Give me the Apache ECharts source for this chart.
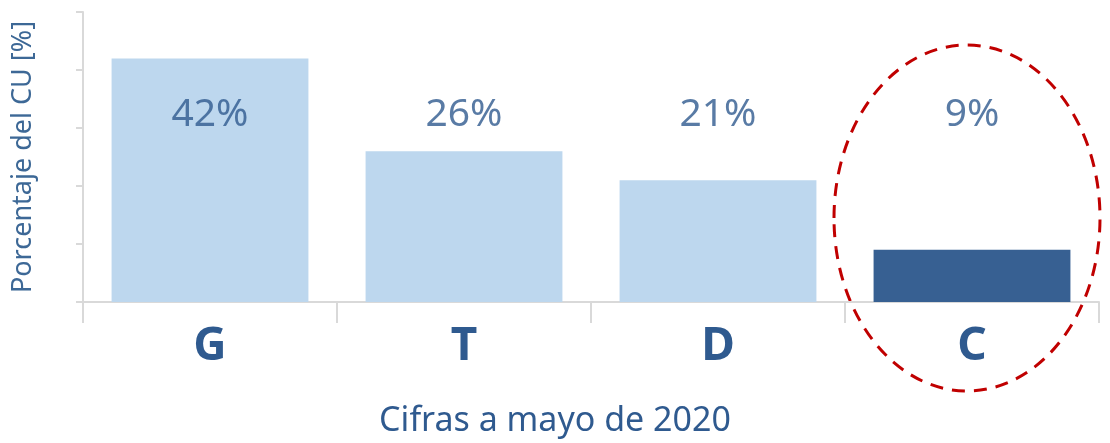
<!DOCTYPE html>
<html>
<head>
<meta charset="utf-8">
<script src="https://cdn.jsdelivr.net/npm/echarts@6/dist/echarts.min.js"></script>
<style>
  html, body { margin: 0; padding: 0; background: #fff; }
  #chart { width: 1110px; height: 443px; }
</style>
</head>
<body>
<div id="chart"></div>
<script>
const categories = ['G', 'T', 'D', 'C']
const values = [42, 26, 21, 9]
const highlight = 'C'
const labelLevel = 32.3 // altura fija donde se escriben los porcentajes

const chart = echarts.init(document.getElementById('chart'))
const font = '"Noto Sans", "Open Sans", sans-serif'

chart.setOption({
  animation: false,
  grid: { left: 83, right: 11, top: 12, bottom: 141 },
  title: {
    text: 'Cifras a mayo de 2020',
    left: 'center',
    bottom: 0,
    textStyle: { color: '#2f5a8f', fontSize: 34, fontWeight: 'normal', fontFamily: font }
  },
  xAxis: {
    type: 'category',
    data: categories,
    axisLine: { lineStyle: { color: '#d9d9d9', width: 2 }},
    axisTick: { show: true, interval: 0, length: 21, lineStyle: { color: '#d9d9d9', width: 2 }},
    axisLabel: {
      color: '#2f5a8f',
      fontSize: 46,
      fontWeight: 'bold',
      fontFamily: font,
      margin: 22
    }
  },
  yAxis: {
    type: 'value',
    min: 0,
    max: 50,
    interval: 10,
    name: 'Porcentaje del CU [%]',
    nameLocation: 'middle',
    nameGap: 46,
    nameTextStyle: { color: '#3d6896', fontSize: 27, fontFamily: font },
    axisLine: { show: true, lineStyle: { color: '#d9d9d9', width: 2 }},
    axisTick: { show: true, length: 7, lineStyle: { color: '#d9d9d9', width: 2 }},
    axisLabel: { show: false },
    splitLine: { show: false }
  },
  series: [
    {
      type: 'bar',
      barWidth: '77.5%',
      data: values.map((v, i) => ({
        value: v,
        itemStyle: { color: categories[i] === highlight ? '#376092' : '#bdd7ee' }
      }))
    },
    {
      // etiquetas a altura fija
      type: 'scatter',
      symbolSize: 0,
      silent: true,
      data: categories.map(() => labelLevel),
      label: {
        show: true,
        position: 'inside',
        formatter: p => values[p.dataIndex] + '%',
        color: '#2f5a8f',
        fontSize: 39,
        fontFamily: font
      }
    }
  ]
})

// elipse discontinua alrededor de la categoría destacada
const center = chart.convertToPixel({ xAxisIndex: 0, yAxisIndex: 0 }, [highlight, 15])
chart.setOption({
  graphic: [{
    type: 'ellipse',
    shape: { cx: center[0] - 5, cy: 218, rx: 133, ry: 173 },
    style: { fill: 'none', stroke: '#c00000', lineWidth: 3, lineDash: [13, 9] }
  }]
})
</script>
</body>
</html>
